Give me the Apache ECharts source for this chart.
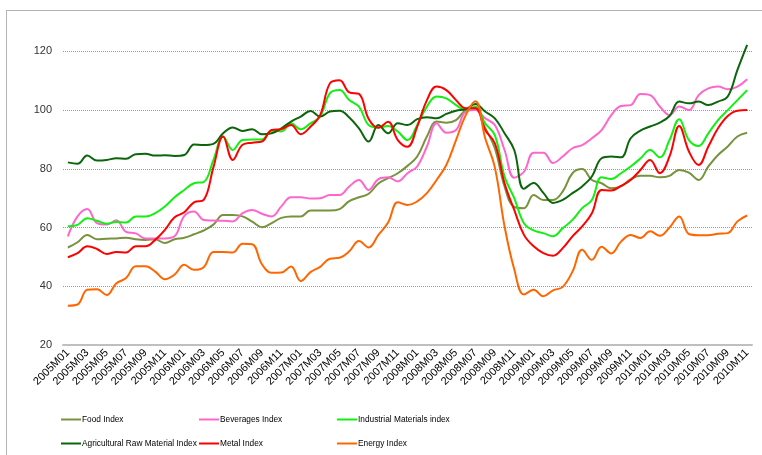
<!DOCTYPE html>
<html>
<head>
<meta charset="utf-8">
<script src="https://cdn.jsdelivr.net/npm/echarts@6/dist/echarts.min.js"></script>
<style>
  html, body { margin: 0; padding: 0; background: #fff; }
  #frame {
    position: absolute; left: 6px; top: 10px; width: 800px; height: 500px;
    border-left: 1.5px solid #b4b4b4; border-top: 1.5px solid #b4b4b4;
  }
  #chart { position: absolute; left: 0; top: 0; width: 762px; height: 455px; }
</style>
</head>
<body>
<div id="frame"></div>
<div id="chart"></div>
<script>
// monthly categories 2005M01 .. 2010M11
const years = [2005, 2006, 2007, 2008, 2009, 2010]
const months = []
years.forEach((y) => {
  for (let m = 1; m <= 12; m++) {
    if (y === 2010 && m > 11) break
    months.push(y + 'M' + (m < 10 ? '0' + m : m))
  }
})

const food = [53.2, 55, 57.5, 56, 56.2, 56.3, 56.5, 56, 55.8, 56, 54.7, 56,
  56.5, 57.7, 59, 61, 64.3, 64.3, 63.8, 62, 60.1, 61.5, 63.3, 63.8,
  63.8, 65.8, 65.8, 65.8, 66.3, 69, 70.3, 71.5, 75, 76.8, 78.5, 81,
  84.2, 91, 96.1, 95.7, 96.6, 100, 100.6, 94, 87, 74, 67, 66.6,
  71.1, 69.4, 69.4, 72.3, 78.5, 79.9, 76.2, 75.1, 73.4, 74, 76.5, 77.6,
  77.6, 77.1, 77.6, 79.6, 78.7, 76.2, 80.8, 84.7, 87.6, 91, 92.3]

const beverages = [57, 63.8, 66.3, 61.5, 61, 62.5, 58.5, 58, 56.3, 56.3, 56.3, 57,
  64, 65.5, 62.6, 62.4, 62.3, 62.1, 64.9, 66, 64.7, 63.8, 67.2, 70.3,
  70.3, 69.9, 70, 71.1, 71.1, 74, 76.2, 72.8, 76.5, 77.1, 75.7, 78.5,
  80.8, 87.6, 95.5, 92.3, 93.2, 99.5, 100, 97.2, 94.9, 86.4, 77, 79,
  85.5, 85.5, 82, 84.2, 87, 88.1, 90.4, 93.2, 98.3, 101.4, 101.7, 105.5,
  105.1, 101.2, 98.3, 101.2, 100, 105.1, 107.4, 108, 107.1, 108, 110.5]

const industrial = [60.4, 60.9, 63.2, 62.3, 61.3, 61.9, 61.7, 63.8, 63.8, 64.9, 67.2, 70.3,
  72.8, 75.1, 75.5, 83, 91, 86.4, 89.8, 90, 90, 93, 92.7, 95.5,
  93.5, 95.5, 97.8, 105.7, 106.8, 103.4, 101.2, 94.9, 94.1, 94.6, 92.7, 89.8,
  94.9, 101.2, 104.6, 104, 101.7, 100, 101.2, 95.5, 91.5, 77.4, 70, 61.5,
  59, 58.1, 57, 59.8, 62.6, 66.6, 69.4, 77.1, 76.5, 78.5, 80.8, 83.5,
  86.4, 83.9, 89.8, 96.9, 89.8, 87.8, 92.1, 96.6, 100, 103.4, 106.8]

const agricultural = [82.2, 81.7, 84.5, 82.8, 83, 83.6, 83.4, 85, 85.1, 84.5, 84.6, 84.4,
  84.7, 88.3, 88.1, 88.5, 92.1, 94.1, 92.9, 93.5, 91.8, 92.1, 93.8, 96.1,
  97.8, 99.7, 97.8, 99.5, 99.8, 97.5, 93.8, 89.3, 94.9, 92.1, 95.5, 94.9,
  96.9, 97.6, 97.2, 98.7, 99.8, 100.3, 102.1, 99.5, 97.2, 92.1, 86.4, 73.2,
  75.2, 71.8, 68.4, 69.4, 71.7, 74, 77.4, 83.6, 84.2, 83.9, 90.4, 93,
  94.4, 95.7, 98, 102.9, 102.3, 102.9, 101.7, 102.9, 104.6, 113.7, 122.2]

const metal = [49.9, 51.3, 53.6, 52.7, 51, 51.7, 51.5, 53.6, 53.6, 55.8, 59.2, 63.5,
  65.2, 68.6, 69.4, 80.5, 91, 83, 88.2, 88.9, 89.3, 93.2, 93.5, 94.9,
  91.8, 94.3, 98.3, 109.1, 110.2, 106, 105.5, 97, 94, 96, 89.8, 87.5,
  94.4, 103.4, 108, 106.8, 103.4, 100.6, 100.6, 93.2, 88.7, 75.1, 66, 57.5,
  53.6, 51.3, 50.4, 53, 57, 60.4, 64.9, 72.8, 72.6, 74.2, 76.2, 79.6,
  83, 78.5, 84.2, 94.6, 85.9, 81.3, 87.6, 93.8, 98, 99.8, 100]

const energy = [33.4, 33.8, 38.8, 39, 37, 41, 42.8, 46.8, 46.8, 45, 42.4, 44,
  47.3, 45.6, 46.5, 51.7, 51.7, 51.5, 54.5, 54.3, 47.5, 44.6, 44.7, 46.7,
  41.8, 44.8, 46.6, 49.4, 49.7, 51.9, 55.4, 53.2, 57.5, 61.7, 68.6, 67.7,
  68.9, 71.7, 76.2, 81.3, 89.8, 98.3, 103, 90.5, 80.5, 60.4, 45.8, 37.2,
  38.8, 36.6, 38.6, 39.8, 45, 52.4, 49, 53.5, 51.2, 55.2, 57.5, 56.4,
  58.7, 57.2, 60, 63.8, 57.8, 57.4, 57.4, 57.9, 58.1, 62.1, 64.1]

const yTicks = [20, 40, 60, 80, 100, 120]

const seriesList = [
  { name: 'Food Index', data: food, color: '#77933c' },
  { name: 'Beverages Index', data: beverages, color: '#ff66cc' },
  { name: 'Industrial Materials index', data: industrial, color: '#11f011' },
  { name: 'Agricultural Raw Material Index', data: agricultural, color: '#0b650b' },
  { name: 'Metal Index', data: metal, color: '#ff0000' },
  { name: 'Energy Index', data: energy, color: '#ff6600' }
]

// legend slots: 3 columns x 2 rows
const legendCols = [61, 199, 337]
const legendRows = [414, 438]

const font = "'Liberation Sans', Arial, sans-serif"

const chart = echarts.init(document.getElementById('chart'))

chart.setOption({
  backgroundColor: 'transparent',
  animation: false,
  grid: { left: 63, right: 10, top: 22, bottom: 110, containLabel: false },
  legend: seriesList.map((s, i) => ({
    data: [s.name],
    left: legendCols[i % 3],
    top: legendRows[Math.floor(i / 3)],
    icon: 'rect',
    itemWidth: 20,
    itemHeight: 2,
    padding: 0,
    textStyle: { fontFamily: font, fontSize: 8.3, lineHeight: 11, color: '#000', padding: [0, 0, 0, -4] }
  })),
  xAxis: {
    type: 'category',
    data: months,
    boundaryGap: true,
    axisTick: { show: false },
    axisLine: { lineStyle: { color: '#bfbfbf', width: 2 } },
    axisLabel: {
      interval: 1,
      rotate: 45,
      margin: 6,
      fontFamily: font,
      fontSize: 11,
      color: '#000'
    },
    splitLine: { show: false }
  },
  yAxis: {
    type: 'value',
    min: 20,
    max: 130,
    interval: 20,
    axisLine: { show: false },
    axisTick: { show: false },
    axisLabel: {
      margin: 11,
      fontFamily: font,
      fontSize: 11,
      color: '#333',
      showMaxLabel: false,
      formatter: (v) => (yTicks.includes(v) ? String(v) : '')
    },
    splitLine: {
      show: true,
      showMinLine: false,
      showMaxLine: false,
      lineStyle: { color: '#9a9a9a', width: 1, type: [1, 1] }
    }
  },
  series: seriesList.map((s) => ({
    name: s.name,
    type: 'line',
    data: s.data,
    smooth: 0.4,
    showSymbol: false,
    symbol: 'none',
    lineStyle: { width: 2, color: s.color },
    itemStyle: { color: s.color }
  }))
})
</script>
</body>
</html>
